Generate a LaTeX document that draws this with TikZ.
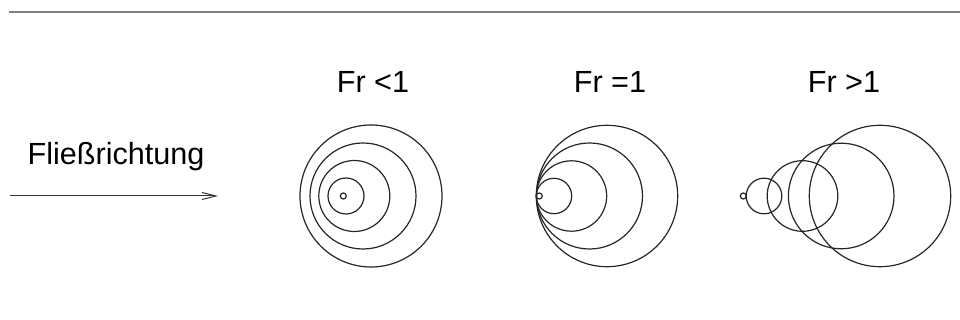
\documentclass[tikz,border=0pt]{standalone}
\usepackage{fontspec}
\setmainfont{Liberation Sans}
\usetikzlibrary{arrows.meta}

\begin{document}
\begin{tikzpicture}[
    x=0.5pt, y=-0.5pt,
    wave/.style={draw=black!85, line width=0.6pt},
    label/.style={font=\fontsize{15.3}{18}\selectfont, anchor=base}
]
\useasboundingbox (0, 0) rectangle (960, 320);

% Top rule
\draw[gray, line width=0.7pt] (9, 12) -- (960, 12);

% Flow direction
\node[label] (flowtext) at (116, 165) {Fließrichtung};
\coordinate (flowstart) at (10, 196);
\coordinate (flowend) at (218, 196);
\draw[black!80, line width=0.5pt, -{Straight Barb[length=7pt, width=3.5pt]}] (flowstart) -- (flowend);

% Fr < 1
\node[label] (frless) at (373, 93) {Fr <1};
\foreach \cx/\r in {343.3/3, 346/18, 354.3/35.5, 363/53, 371/71}
    \draw[wave] (\cx, 196) circle (\r);

% Fr = 1
\node[label] (frequal) at (610, 93) {Fr =1};
\foreach \cx/\r in {539.3/3, 554/17.7, 571.5/35.2, 589.5/53, 607/70.7}
    \draw[wave] (\cx, 196) circle (\r);

% Fr > 1
\node[label] (frgreater) at (844, 93) {Fr >1};
\foreach \cx/\r in {743.3/3, 764/17.8, 802.5/35.3, 841.2/52.8, 880/70.7}
    \draw[wave] (\cx, 196) circle (\r);

\end{tikzpicture}
\end{document}
